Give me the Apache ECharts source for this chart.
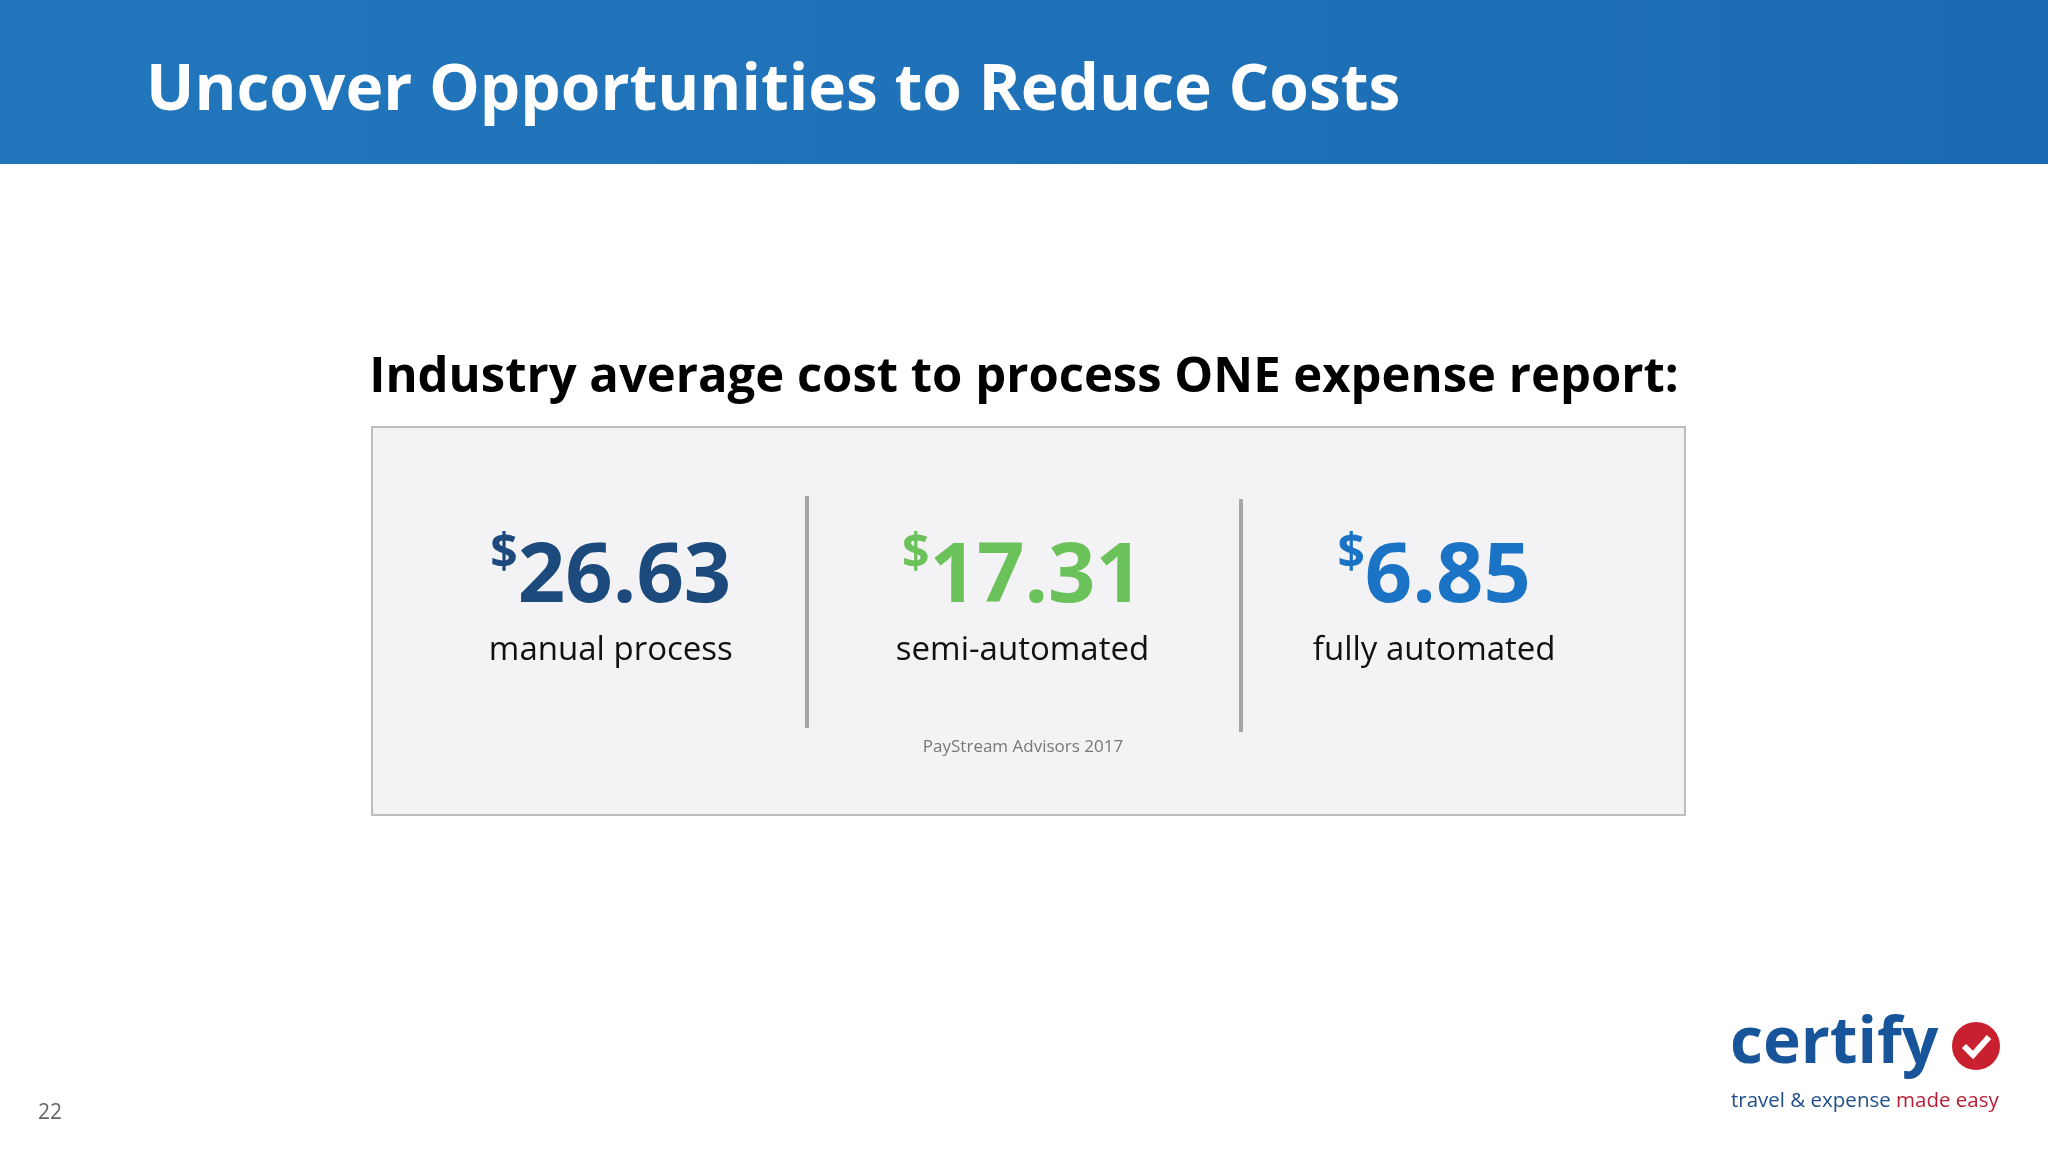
<!DOCTYPE html>
<html>
<head>
<meta charset="utf-8">
<script src="https://cdn.jsdelivr.net/npm/echarts@6/dist/echarts.min.js"></script>
<style>html,body{margin:0;padding:0;background:#fff}#main{width:2048px;height:1152px}</style>
</head>
<body>
<div id="main"></div>
<script>
var categories = ["manual process", "semi-automated", "fully automated"];
var costs = [26.63, 17.31, 6.85];
var colors = ["#1d4a7c", "#6cc25a", "#1b73c6"];

var font = "'Open Sans', 'Noto Sans', sans-serif";
var myChart = echarts.init(document.getElementById('main'));

var data = [];
for (var i = 0; i < costs.length; i++) {
	data.push({
		value: [categories[i], 0.34],
		cost: costs[i],
		label: {
			rich: {
				d: { fontSize: 48, fontWeight: 'bold', color: colors[i], verticalAlign: 'top', lineHeight: 95, fontFamily: font },
				n: { fontSize: 83, fontWeight: 'bold', color: colors[i], lineHeight: 95, fontFamily: font },
				t: { fontSize: 33, color: '#111', lineHeight: 50, fontFamily: font }
			}
		}
	});
}

var option = {
	animation: false,
	graphic: [
		{ type: 'rect', shape: { x: 0, y: 0, width: 2048, height: 164 }, style: {
			fill: new echarts.graphic.LinearGradient(0, 0, 1, 0, [{ offset: 0, color: '#2276bb' }, { offset: 0.5, color: '#1f72b8' }, { offset: 1, color: '#196ab2' }]) } },
		{ type: 'text', left: 146, top: 60, style: { text: 'Uncover Opportunities to Reduce Costs', fill: '#fff', font: 'bold 64px ' + font } },
		{ type: 'text', left: 'center', top: 354, style: { text: 'Industry average cost to process ONE expense report:', fill: '#000', font: 'bold 49px ' + font } },
		{ type: 'rect', z: -1, shape: { x: 372, y: 427, width: 1313, height: 388 }, style: { fill: '#f3f2f4', stroke: '#bdbdbd', lineWidth: 2 } },
		{ type: 'rect', shape: { x: 805, y: 496, width: 4, height: 232 }, style: { fill: '#a6a6a6' } },
		{ type: 'rect', shape: { x: 1239, y: 499, width: 4, height: 233 }, style: { fill: '#a6a6a6' } },
		{ type: 'text', x: 1023, y: 747, style: { text: 'PayStream Advisors 2017', fill: '#777', font: '17px ' + font, align: 'center', verticalAlign: 'middle' } },
		{ type: 'text', x: 38, y: 1113, style: { text: '22', fill: '#666', font: '21px ' + font, verticalAlign: 'middle' } },
		{ type: 'text', x: 1730, y: 1045, style: { text: 'certify', fill: '#17549a', font: 'bold 64px ' + font, verticalAlign: 'middle' } },
		{ type: 'circle', shape: { cx: 1976, cy: 1046, r: 24 }, style: { fill: '#c8202f' } },
		{ type: 'polyline', shape: { points: [[1964, 1046], [1973, 1055], [1989, 1037]] }, style: { stroke: '#fff', lineWidth: 6, fill: null } },
		{ type: 'text', x: 1731, y: 1101, style: { rich: {
			a: { fill: '#1f4f8a', font: '20.5px ' + font },
			b: { fill: '#b51f35', font: '20.5px ' + font }
		}, text: '{a|travel & expense }{b|made easy}', verticalAlign: 'middle' } }
	],
	grid: { left: 405, right: 408, top: 471, height: 200 },
	xAxis: { type: 'category', data: categories, show: false },
	yAxis: { type: 'value', min: 0, max: 1, show: false },
	series: [{
		type: 'scatter',
		symbolSize: 0,
		itemStyle: { opacity: 1 },
		data: data,
		label: {
			show: true,
			position: 'inside',
			align: 'center',
			opacity: 1,
			formatter: function (p) {
				return '{d|$}{n|' + p.data.cost.toFixed(2) + '}\n{t|' + p.data.value[0] + '}';
			}
		}
	}]
};
myChart.setOption(option);
</script>
</body>
</html>
